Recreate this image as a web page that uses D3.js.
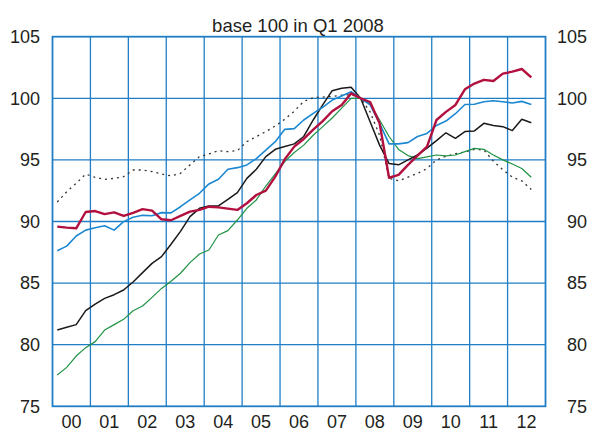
<!DOCTYPE html>
<html>
<head>
<meta charset="utf-8">
<script src="https://cdn.jsdelivr.net/npm/d3@7"></script>
<style>
  html, body { margin: 0; padding: 0; background: #fff; }
  svg text { font-family: "Liberation Sans", Arial, Helvetica, sans-serif; fill: #231f20; }
</style>
</head>
<body>
<svg width="593" height="432"></svg>
<script>
// Quarterly index, base 100 in Q1 2008 (Q1 2000 .. Q3 2012)
const yearLabels = ["00", "01", "02", "03", "04", "05", "06", "07", "08", "09", "10", "11", "12"];
const yTicks = [75, 80, 85, 90, 95, 100, 105];
const title = "base 100 in Q1 2008";

const redSeries = [
    89.58, 89.5, 89.45, 90.77, 90.85, 90.6, 90.74, 90.45, 90.7, 91.0, 90.88, 90.18, 90.1,
    90.45, 90.8, 90.94, 91.2, 91.15, 91.04, 90.94, 91.48, 92.15, 92.5, 93.64, 95.05, 96.08,
    96.7, 97.45, 98.15, 98.95, 99.46, 100.4, 100, 99.7, 97.97, 93.55, 93.78, 94.6, 95.35,
    96.07, 98.24, 98.9, 99.46, 100.73, 101.2, 101.5, 101.4, 102.0, 102.16, 102.38, 101.7
];
const blueSeries = [
    87.63, 88.0, 88.82, 89.3, 89.5, 89.66, 89.3, 89.99, 90.34, 90.5, 90.47, 90.72, 90.7,
    91.2, 91.75, 92.29, 93.05, 93.43, 94.24, 94.37, 94.59, 95.1, 95.8, 96.48, 97.48, 97.54,
    98.24, 98.78, 99.27, 99.86, 100.19, 100.54, 100, 99.46, 97.97, 96.3, 96.3, 96.4, 96.9,
    97.15, 97.8, 98.15, 98.75, 99.5, 99.52, 99.72, 99.8, 99.72, 99.62, 99.75, 99.5
];
const blackSeries = [
    81.2, 81.41, 81.63, 82.76, 83.3, 83.76, 84.06, 84.44, 85.09, 85.85, 86.6, 87.15, 88.15,
    89.2, 90.4, 91.07, 91.26, 91.26, 91.8, 92.34, 93.5, 94.24, 95.27, 95.86, 96.08, 96.3,
    96.9, 98.24, 99.46, 100.62, 100.81, 100.9, 100, 98.1, 96.2, 94.7, 94.6, 95.0, 95.4,
    95.95, 96.56, 97.2, 96.75, 97.3, 97.35, 97.97, 97.8, 97.7, 97.38, 98.3, 98.02
];
const greenSeries = [
    77.54, 78.16, 79.08, 79.76, 80.25, 81.19, 81.63, 82.06, 82.76, 83.14, 83.84, 84.57, 85.15,
    85.8, 86.66, 87.36, 87.69, 88.9, 89.26, 90.12, 91.07, 91.75, 92.88, 93.86, 94.86, 95.6,
    96.2, 97.0, 97.7, 98.4, 99.2, 100, 100, 99.55, 98.24, 96.9, 95.85, 95.35, 95.1,
    95.25, 95.4, 95.32, 95.4, 95.67, 95.94, 95.86, 95.4, 95.0, 94.67, 94.3, 93.59
];
const dottedSeries = [
    91.58, 92.42, 93.1, 93.85, 93.58, 93.42, 93.5, 93.64, 94.18, 94.18, 94.05, 93.85, 93.7,
    93.91, 94.59, 95.27, 95.48, 95.75, 95.67, 95.75, 96.48, 96.89, 97.3, 97.75, 98.3, 98.95,
    99.75, 100.05, 100.1, 100.15, 100.25, 100.3, 100, 98.9, 97.0, 93.5, 93.3, 93.6, 93.9,
    94.3, 95.0, 95.3, 95.5, 95.65, 95.85, 95.8, 94.9, 94.2, 93.6, 93.3, 92.6
];

const gridColor = "#1f7ec6";

const svg = d3.select("svg");

// Plot area edges
const plotLeft = 52.5, plotRight = 545.5, plotTop = 36.7, plotBottom = 406.3;

// x in quarters since Q1 2000, a point sits in the middle of its quarter
const x = d3.scaleLinear().domain([0, yearLabels.length * 4]).range([plotLeft, plotRight]);
const y = d3.scaleLinear().domain([75, 105]).range([plotBottom, plotTop]);

// Horizontal grid
svg.append("g")
    .selectAll("line")
    .data(yTicks.slice(1, -1))
    .join("line")
    .attr("x1", plotLeft).attr("x2", plotRight)
    .attr("y1", d => y(d)).attr("y2", d => y(d))
    .attr("stroke", gridColor)
    .attr("stroke-width", 1.3);

// Vertical grid at year boundaries
svg.append("g")
    .selectAll("line")
    .data(d3.range(1, yearLabels.length))
    .join("line")
    .attr("x1", d => x(d * 4)).attr("x2", d => x(d * 4))
    .attr("y1", plotTop).attr("y2", plotBottom)
    .attr("stroke", gridColor)
    .attr("stroke-width", 1.3);

// Frame
svg.append("rect")
    .attr("x", plotLeft).attr("y", plotTop)
    .attr("width", plotRight - plotLeft).attr("height", plotBottom - plotTop)
    .attr("fill", "none")
    .attr("stroke", gridColor)
    .attr("stroke-width", 1.8);

// Y labels, both sides
const yLabelGroup = svg.append("g").attr("font-size", "18px");
yLabelGroup.selectAll("text.left")
    .data(yTicks)
    .join("text")
    .attr("class", "left")
    .attr("x", 40)
    .attr("y", d => y(d))
    .attr("dy", "0.35em")
    .attr("text-anchor", "end")
    .text(d => d);
yLabelGroup.selectAll("text.right")
    .data(yTicks)
    .join("text")
    .attr("class", "right")
    .attr("x", 587)
    .attr("y", d => y(d))
    .attr("dy", "0.35em")
    .attr("text-anchor", "end")
    .text(d => d);

// X labels centred in each year
svg.append("g")
    .attr("font-size", "18px")
    .selectAll("text")
    .data(yearLabels)
    .join("text")
    .attr("x", (d, i) => x(i * 4 + 2))
    .attr("y", 428)
    .attr("text-anchor", "middle")
    .text(d => d);

// Title
svg.append("text")
    .attr("x", 298)
    .attr("y", 32)
    .attr("text-anchor", "middle")
    .attr("font-size", "18.5px")
    .text(title);

const line = d3.line()
    .x((d, i) => x(i + 0.5))
    .y(d => y(d));

function drawSeries(values, color, width, dash) {
    svg.append("path")
        .datum(values)
        .attr("d", line)
        .attr("fill", "none")
        .attr("stroke", color)
        .attr("stroke-width", width)
        .attr("stroke-linejoin", "round")
        .attr("stroke-dasharray", dash || null);
}

drawSeries(dottedSeries, "#333", 1.3, "2,4");
drawSeries(greenSeries, "#1f9243", 1.2);
drawSeries(blackSeries, "#1a1a1a", 1.5);
drawSeries(blueSeries, "#1c88d2", 1.6);
drawSeries(redSeries, "#b2103e", 2.4);
</script>
</body>
</html>
